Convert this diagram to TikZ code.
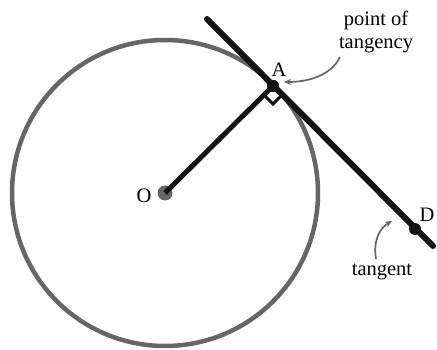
\documentclass[tikz,border=0pt]{standalone}
\usepackage{fontspec}
\setmainfont{Liberation Serif}
\usetikzlibrary{arrows.meta,positioning}

\begin{document}
\begin{tikzpicture}[x=1pt,y=-1pt,
  font=\fontsize{20.5}{23}\selectfont, >={Stealth[length=7pt,width=6pt]},
  ring/.style={draw=black!60,line width=4.5pt},
  seg/.style={draw=black!92,line width=5pt},
  tline/.style={draw=black!92,line width=6pt,line cap=round},
  dot/.style={circle,fill=black!92,inner sep=0pt,minimum size=12pt},
  cdot/.style={circle,fill=black!60,inner sep=0pt,minimum size=15pt},
  rightang/.style={draw=black!92,line width=3pt,line join=miter},
  note/.style={draw=black!60,line width=1.7pt,->},
  lab/.style={inner sep=0pt,align=center}]
\useasboundingbox (0,0) rectangle (437,350);
% circle, radius and tangent line
\coordinate (O) at (165,193);
\coordinate (T1) at (207,19);
\coordinate (T2) at (433,246);
\draw[ring] (O) circle[radius=153];
\node[cdot] (Odot) at (O) {};
\node[dot] (Adot) at (273,86) {};
\node[dot] (Ddot) at (415,229) {};
\draw[seg] (Odot.center) -- (Adot.center);
\draw[rightang] (Adot.center) -- ++(-9,9) -- ++(9,9) -- ++(9,-9);
\draw[tline] (T1) -- (T2);
\node[dot] at (Adot) {};
% labels
\node[lab] (Olab) at (144,196) {O};
\node[lab] (Alab) at (279,70) {A};
\node[lab] (Dlab) at (427,215) {D};
\node[lab] (ptlab) at (376,32) {point of\\tangency};
\node[lab] (tglab) at (382,272) {tangent};
% notes
\coordinate (ptTail) at (340,57);
\coordinate (ptHead) at (284,82);
\coordinate (tgTail) at (376,259);
\coordinate (tgHead) at (392,221);
\draw[note] (ptTail) .. controls (331,76) and (307,82) .. (ptHead);
\draw[note] (tgTail) .. controls (373,240) and (380,228) .. (tgHead);
\end{tikzpicture}
\end{document}
